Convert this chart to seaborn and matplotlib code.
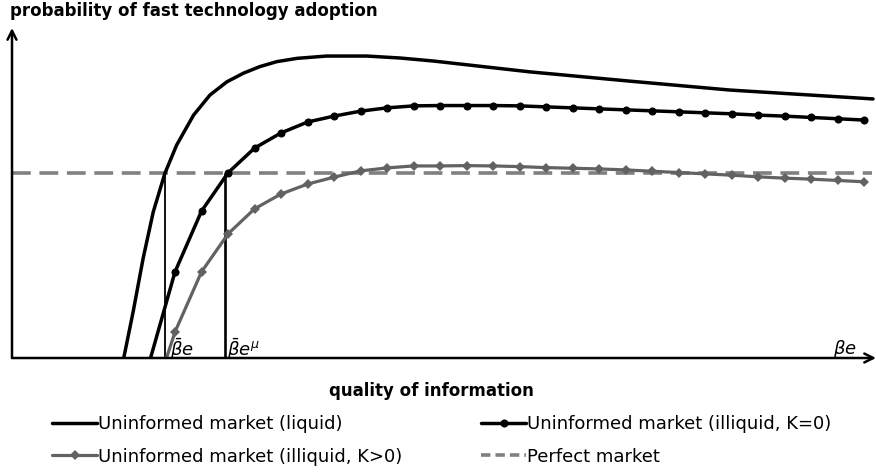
import numpy as np
import pandas as pd
import matplotlib
matplotlib.use("Agg")
import matplotlib.pyplot as plt
from matplotlib.lines import Line2D
import seaborn as sns

sns.set_style("white")
plt.rcParams['font.family'] = ['DejaVu Sans']
plt.rcParams['mathtext.fontset'] = 'dejavusans'
plt.rcParams['text.color'] = 'black'

# ---------------- data ----------------
# quality-of-information grid where the marked curves have markers
quality_grid = [0.30, 0.35, 0.40, 0.45, 0.50, 0.55, 0.60, 0.65, 0.70, 0.75,
                0.80, 0.85, 0.90, 0.95, 1.00, 1.05, 1.10, 1.15, 1.20, 1.25,
                1.30, 1.35, 1.40, 1.45, 1.50, 1.55, 1.60]

# Uninformed market (illiquid, K=0)
k0_start_x = 0.253
k0_start_y = -0.005
k0_values = [0.261, 0.445, 0.561, 0.636, 0.682, 0.715, 0.733, 0.748, 0.758, 0.764,
             0.765, 0.765, 0.765, 0.764, 0.761, 0.758, 0.755, 0.752, 0.749, 0.746,
             0.743, 0.740, 0.736, 0.733, 0.729, 0.725, 0.721]

# Uninformed market (illiquid, K>0)
kp_start_x = 0.283
kp_start_y = -0.005
kp_values = [0.079, 0.261, 0.376, 0.452, 0.497, 0.527, 0.548, 0.567, 0.576, 0.582,
             0.582, 0.583, 0.582, 0.580, 0.577, 0.575, 0.573, 0.570, 0.566, 0.562,
             0.558, 0.554, 0.549, 0.545, 0.542, 0.538, 0.534]

# Uninformed market (liquid)
liquid_x = [0.202, 0.221, 0.240, 0.259, 0.281, 0.303, 0.335, 0.366, 0.398, 0.429,
            0.460, 0.492, 0.530, 0.586, 0.630, 0.662, 0.725, 0.787, 0.970, 1.158,
            1.347, 1.617]
liquid_y = [-0.010, 0.140, 0.303, 0.443, 0.560, 0.645, 0.736, 0.797, 0.837, 0.863,
            0.883, 0.898, 0.908, 0.915, 0.915, 0.915, 0.909, 0.900, 0.867, 0.839,
            0.812, 0.785]

# Perfect market (constant probability)
perfect_level = 0.561

# thresholds
beta_bar = 0.281
beta_bar_mu = 0.395

labels = ["Uninformed market (liquid)",
          "Uninformed market (illiquid, K=0)",
          "Uninformed market (illiquid, K>0)",
          "Perfect market"]

# ---------------- figure ----------------
W, H = 876, 473
fig = plt.figure(figsize=(W / 100, H / 100), dpi=100)
ax = fig.add_axes([12 / W, 1 - 358 / H, (876 - 12) / W, (358 - 28) / H])
ax.set_xlim(-0.00755, 1.6226)
ax.set_ylim(0, 1)
ax.set_axis_off()

black = "#000000"
gray_line = "#626262"
gray_dash = "#808080"

# perfect market dashed line
ax.axhline(perfect_level, xmin=0, xmax=0.995, color=gray_dash, lw=2.6,
           dashes=(5.2, 2.4), zorder=1)

# thresholds vertical lines
ax.vlines(beta_bar, 0, perfect_level, color=black, lw=1.3, zorder=2)
ax.vlines(beta_bar_mu, 0, perfect_level, color=black, lw=1.9, zorder=2)

# liquid curve
df_liq = pd.DataFrame({"q": liquid_x, "p": liquid_y})
sns.lineplot(data=df_liq, x="q", y="p", ax=ax, color=black, lw=2.5,
             sort=False, errorbar=None, zorder=4)

# K>0 curve
df_kp = pd.DataFrame({"q": [kp_start_x] + quality_grid,
                      "p": [kp_start_y] + kp_values})
sns.lineplot(data=df_kp, x="q", y="p", ax=ax, color=gray_line, lw=2.3,
             marker="D", markersize=4.6, markeredgewidth=0,
             markevery=list(range(1, len(df_kp))),
             sort=False, errorbar=None, zorder=3)

# K=0 curve
df_k0 = pd.DataFrame({"q": [k0_start_x] + quality_grid,
                      "p": [k0_start_y] + k0_values})
sns.lineplot(data=df_k0, x="q", y="p", ax=ax, color=black, lw=2.5,
             marker="o", markersize=5.8, markeredgewidth=0,
             markevery=list(range(1, len(df_k0))),
             sort=False, errorbar=None, zorder=5)

# axes arrows
arrow = dict(arrowstyle="->", lw=1.8, color=black, shrinkA=0, shrinkB=0,
             mutation_scale=16)
ax.annotate("", xy=(0, 1), xytext=(0, 0), xycoords="axes fraction",
            arrowprops=arrow, annotation_clip=False)
ax.annotate("", xy=(1, 0), xytext=(0, 0), xycoords="axes fraction",
            arrowprops=arrow, annotation_clip=False)

# beta labels
ax.text(beta_bar + 0.010, 0.006, r"$\bar{\beta}e$", fontsize=13, va="baseline",
        ha="left")
ax.text(beta_bar_mu + 0.003, 0.006, r"$\bar{\beta}e^{\mu}$", fontsize=13,
        va="baseline", ha="left")
ax.text(1.541, 0.012, r"$\beta e$", fontsize=13, va="baseline", ha="left")

# titles
fig.text(10 / W, 1 - 15.7 / H, "probability of fast technology adoption",
         fontsize=12, weight="bold", ha="left", va="baseline")
fig.text(431 / W, 1 - 396 / H, "quality of information",
         fontsize=12, weight="bold", ha="center", va="baseline")

# legend (two columns)
h_liq = Line2D([], [], color=black, lw=2.5)
h_k0 = Line2D([], [], color=black, lw=2.5, marker="o", markersize=5.8,
              markeredgewidth=0)
h_kp = Line2D([], [], color=gray_line, lw=2.3, marker="D", markersize=4.6,
              markeredgewidth=0)
h_pm = Line2D([], [], color=gray_dash, lw=2.6, dashes=(2.6, 1.4))
leg_kw = dict(loc="center left", frameon=False, fontsize=13, borderpad=0,
              borderaxespad=0, handlelength=2.5, handletextpad=0.06,
              labelspacing=0.8, labelcolor="black")
leg1 = fig.legend([h_liq, h_kp], [labels[0], labels[2]],
                  bbox_to_anchor=(52 / W, 1 - 440.5 / H), **leg_kw)
leg2 = fig.legend([h_k0, h_pm], [labels[1], labels[3]],
                  bbox_to_anchor=(481 / W, 1 - 440.5 / H), **leg_kw)

fig.savefig("out.png", dpi=100)
